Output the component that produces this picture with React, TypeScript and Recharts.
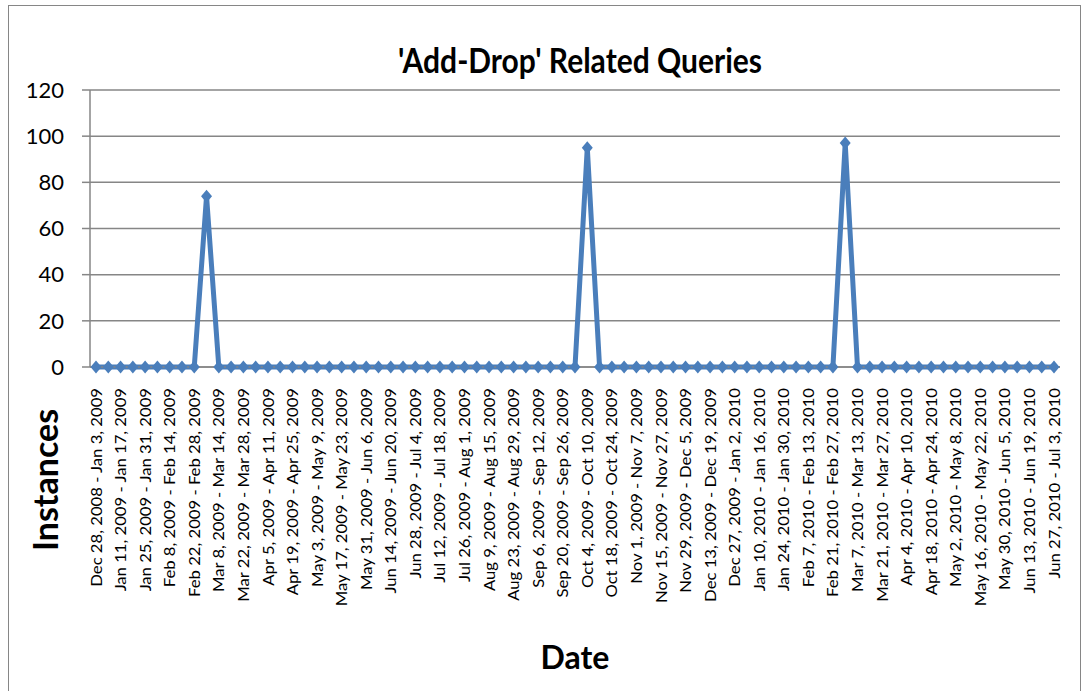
import React from 'react';
import { LineChart, Line, XAxis, YAxis, CartesianGrid } from 'recharts';

// weekly categories (every other one is shown on the axis)
const weeks = [
  'Dec 28, 2008 - Jan 3, 2009', 'Jan 4, 2009 - Jan 10, 2009', 'Jan 11, 2009 - Jan 17, 2009', 'Jan 18, 2009 - Jan 24, 2009',
  'Jan 25, 2009 - Jan 31, 2009', 'Feb 1, 2009 - Feb 7, 2009', 'Feb 8, 2009 - Feb 14, 2009', 'Feb 15, 2009 - Feb 21, 2009',
  'Feb 22, 2009 - Feb 28, 2009', 'Mar 1, 2009 - Mar 7, 2009', 'Mar 8, 2009 - Mar 14, 2009', 'Mar 15, 2009 - Mar 21, 2009',
  'Mar 22, 2009 - Mar 28, 2009', 'Mar 29, 2009 - Apr 4, 2009', 'Apr 5, 2009 - Apr 11, 2009', 'Apr 12, 2009 - Apr 18, 2009',
  'Apr 19, 2009 - Apr 25, 2009', 'Apr 26, 2009 - May 2, 2009', 'May 3, 2009 - May 9, 2009', 'May 10, 2009 - May 16, 2009',
  'May 17, 2009 - May 23, 2009', 'May 24, 2009 - May 30, 2009', 'May 31, 2009 - Jun 6, 2009', 'Jun 7, 2009 - Jun 13, 2009',
  'Jun 14, 2009 - Jun 20, 2009', 'Jun 21, 2009 - Jun 27, 2009', 'Jun 28, 2009 - Jul 4, 2009', 'Jul 5, 2009 - Jul 11, 2009',
  'Jul 12, 2009 - Jul 18, 2009', 'Jul 19, 2009 - Jul 25, 2009', 'Jul 26, 2009 - Aug 1, 2009', 'Aug 2, 2009 - Aug 8, 2009',
  'Aug 9, 2009 - Aug 15, 2009', 'Aug 16, 2009 - Aug 22, 2009', 'Aug 23, 2009 - Aug 29, 2009', 'Aug 30, 2009 - Sep 5, 2009',
  'Sep 6, 2009 - Sep 12, 2009', 'Sep 13, 2009 - Sep 19, 2009', 'Sep 20, 2009 - Sep 26, 2009', 'Sep 27, 2009 - Oct 3, 2009',
  'Oct 4, 2009 - Oct 10, 2009', 'Oct 11, 2009 - Oct 17, 2009', 'Oct 18, 2009 - Oct 24, 2009', 'Oct 25, 2009 - Oct 31, 2009',
  'Nov 1, 2009 - Nov 7, 2009', 'Nov 8, 2009 - Nov 14, 2009', 'Nov 15, 2009 - Nov 27, 2009', 'Nov 22, 2009 - Nov 28, 2009',
  'Nov 29, 2009 - Dec 5, 2009', 'Dec 6, 2009 - Dec 12, 2009', 'Dec 13, 2009 - Dec 19, 2009', 'Dec 20, 2009 - Dec 26, 2009',
  'Dec 27, 2009 - Jan 2, 2010', 'Jan 3, 2010 - Jan 9, 2010', 'Jan 10, 2010 - Jan 16, 2010', 'Jan 17, 2010 - Jan 23, 2010',
  'Jan 24, 2010 - Jan 30, 2010', 'Jan 31, 2010 - Feb 6, 2010', 'Feb 7, 2010 - Feb 13, 2010', 'Feb 14, 2010 - Feb 20, 2010',
  'Feb 21, 2010 - Feb 27, 2010', 'Feb 28, 2010 - Mar 6, 2010', 'Mar 7, 2010 - Mar 13, 2010', 'Mar 14, 2010 - Mar 20, 2010',
  'Mar 21, 2010 - Mar 27, 2010', 'Mar 28, 2010 - Apr 3, 2010', 'Apr 4, 2010 - Apr 10, 2010', 'Apr 11, 2010 - Apr 17, 2010',
  'Apr 18, 2010 - Apr 24, 2010', 'Apr 25, 2010 - May 1, 2010', 'May 2, 2010 - May 8, 2010', 'May 9, 2010 - May 15, 2010',
  'May 16, 2010 - May 22, 2010', 'May 23, 2010 - May 29, 2010', 'May 30, 2010 - Jun 5, 2010', 'Jun 6, 2010 - Jun 12, 2010',
  'Jun 13, 2010 - Jun 19, 2010', 'Jun 20, 2010 - Jun 26, 2010', 'Jun 27, 2010 - Jul 3, 2010',
];

const instances = [
  0, 0, 0, 0, 0, 0, 0, 0, 0, 74,
  0, 0, 0, 0, 0, 0, 0, 0, 0, 0,
  0, 0, 0, 0, 0, 0, 0, 0, 0, 0,
  0, 0, 0, 0, 0, 0, 0, 0, 0, 0,
  95, 0, 0, 0, 0, 0, 0, 0, 0, 0,
  0, 0, 0, 0, 0, 0, 0, 0, 0, 0,
  0, 97, 0, 0, 0, 0, 0, 0, 0, 0,
  0, 0, 0, 0, 0, 0, 0, 0, 0,
];

const yTicks = [0, 20, 40, 60, 80, 100, 120];

const data = weeks.map((week, i) => ({ week, value: instances[i] }));

const BLUE = '#4a7ebb';
const GRID = '#868686';
const FONT = 'Lato, "Open Sans", sans-serif';

// rotated label, stretched a little along its length like the original
const WeekTick = (props: any) => {
  const { x, y, payload } = props;
  return (
    <text
      transform={`translate(${x}, ${y}) scale(1, 1.15) rotate(-90)`}
      textAnchor="end"
      dominantBaseline="central"
      fontSize={14.5}
      fill="#000"
    >
      {payload.value}
    </text>
  );
};

const Diamond = (props: any) => {
  const { cx, cy, index } = props;
  if (cx == null || cy == null) return <g key={index} />;
  return (
    <path
      key={index}
      d={`M${cx},${cy - 6.5} L${cx + 5.5},${cy} L${cx},${cy + 6.5} L${cx - 5.5},${cy} Z`}
      fill={BLUE}
    />
  );
};

export default function App() {
  return (
    <div style={{ position: 'absolute', left: 0, top: 0, width: 1090, height: 691, overflow: 'hidden', background: '#fff', fontFamily: FONT }}>
      <div style={{ position: 'absolute', left: 8, top: 5, width: 1073, height: 720, border: `1.5px solid ${GRID}`, boxSizing: 'border-box' }} />
      <div style={{ position: 'absolute', left: 0, top: 0 }}>
        <LineChart width={1090} height={691} data={data} margin={{ top: 90, right: 30, left: 0, bottom: 0 }}>
          <CartesianGrid vertical={false} stroke={GRID} strokeWidth={1.5} />
          <XAxis
            dataKey="week"
            interval={1}
            height={324}
            padding={{ left: 6, right: 6 }}
            stroke={GRID}
            strokeWidth={1.5}
            tickLine={false}
            tickSize={0}
            tickMargin={21}
            tick={<WeekTick />}
            label={{ value: 'Date', position: 'insideBottom', offset: 22, fontSize: 32, fontWeight: 700, fill: '#000' }}
          />
          <YAxis
            width={90}
            domain={[0, 120]}
            ticks={yTicks}
            stroke={GRID}
            strokeWidth={1.5}
            tickSize={8}
            tickMargin={18}
            tick={{ fill: '#000', fontSize: 22 }}
          />
          <Line
            type="linear"
            dataKey="value"
            stroke={BLUE}
            strokeWidth={5}
            dot={<Diamond />}
            activeDot={false}
            isAnimationActive={false}
          />
        </LineChart>
      </div>
      <div style={{ position: 'absolute', left: 330, width: 500, top: 40, textAlign: 'center', fontSize: 30, fontWeight: 700, lineHeight: '40px', transform: 'scaleY(1.12)' }}>
        'Add-Drop' Related Queries
      </div>
      <div style={{ position: 'absolute', left: 45, top: 480, width: 300, height: 40, marginLeft: -150, marginTop: -20, transform: 'rotate(-90deg)', textAlign: 'center', fontSize: 34, fontWeight: 700, lineHeight: '40px' }}>
        Instances
      </div>
    </div>
  );
}
